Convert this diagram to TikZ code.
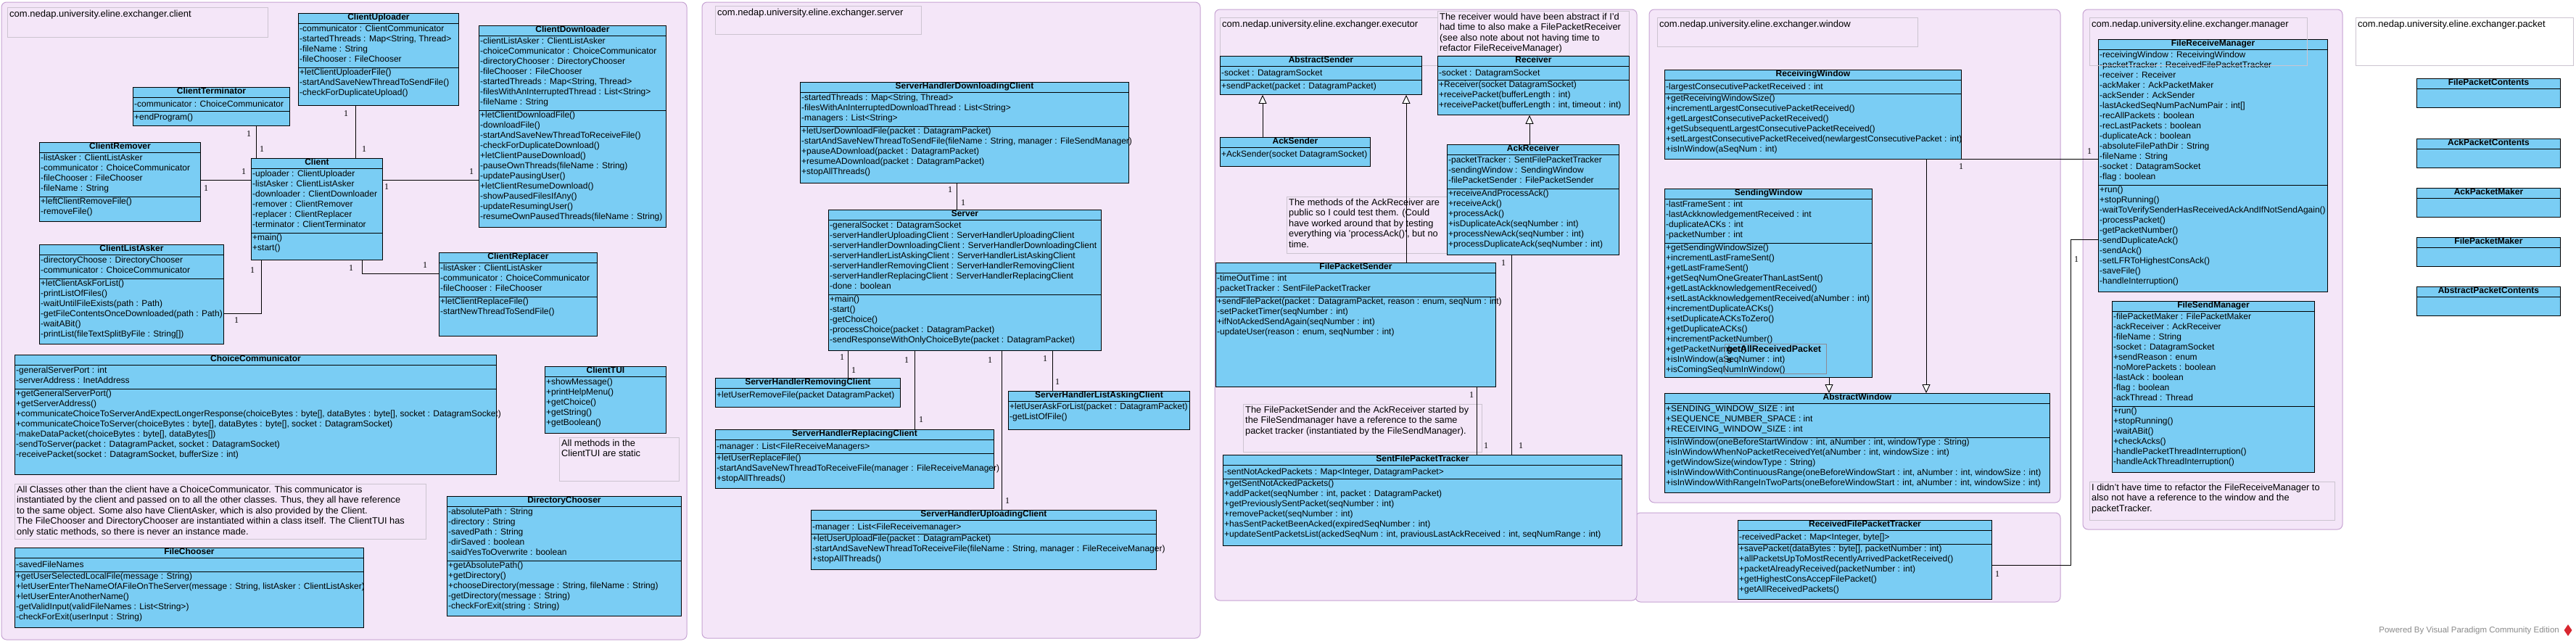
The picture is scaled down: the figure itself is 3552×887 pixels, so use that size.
\documentclass[tikz,border=0pt]{standalone}
\usepackage{fontspec}
\setmainfont{Liberation Sans}
\newfontfamily\numfont{Liberation Serif}
\usetikzlibrary{shapes.geometric, arrows.meta, calc}
\definecolor{Classblue}{HTML}{7ACDF4}
\definecolor{Pkgfill}{HTML}{F4E6F8}
\definecolor{Pkgline}{HTML}{C6A3D2}
\definecolor{Notegray}{HTML}{CCC4D0}
\definecolor{Footgray}{HTML}{8A8A8A}
\definecolor{Logored}{HTML}{D8262F}
\tikzstyle{package} = [
    draw=Pkgline,
    fill=Pkgfill,
    line width=1pt,
    rounded corners=7pt
]
\tikzstyle{notebox} = [
    rectangle,
    draw=Notegray,
    line width=0.7pt,
    anchor=north west,
    inner sep=0pt
]
\tikzstyle{notetext} = [
    anchor=north west,
    align=left,
    inner sep=0pt,
    font=\fontsize{12.8}{14.5}\selectfont,
    execute at begin node=\strut
]
\tikzstyle{pkgtext} = [
    anchor=north west,
    inner sep=0pt,
    font=\fontsize{13}{15}\selectfont,
    execute at begin node=\strut
]
\tikzstyle{classbox} = [
    rectangle,
    draw=black,
    fill=Classblue,
    line width=0.9pt,
    anchor=north west,
    inner sep=0pt
]
\tikzstyle{classtitle} = [
    inner sep=0pt,
    text height=9.8pt,
    text depth=4.2pt,
    font=\bfseries\fontsize{12}{14}\selectfont
]
\tikzstyle{members} = [
    anchor=north west,
    align=left,
    inner sep=0pt,
    font=\fontsize{12}{14}\selectfont,
    execute at begin node=\strut
]
\tikzstyle{divider} = [
    line width=0.9pt
]
\tikzstyle{assoc} = [
    line width=0.9pt
]
\tikzstyle{gen} = [
    line width=0.9pt,
    -{Triangle[length=12pt, width=11pt, fill=white]}
]
\tikzstyle{mult} = [
    inner sep=0pt,
    font=\numfont\fontsize{12}{14}\selectfont
]
% name, x, y, width, height, title, number of attributes, attributes, operations
\newcommand{\umlclass}[9]{%
    \node (#1)   [classbox, minimum width=#4pt, minimum height=#5pt]      at (#2,#3) {};
    \node (#1-t) [classtitle]                                            at ($(#1.north)+(0,7)$) {#6};
    \draw [divider] ($(#1.north west)+(0,14)$) -- ($(#1.north east)+(0,14)$);
    \node (#1-a) [members]                                               at ($(#1.north west)+(2,17)$) {#8};
    \draw [divider] ($(#1.north west)+(0,{19+14*#7})$) -- ($(#1.north east)+(0,{19+14*#7})$);
    \node (#1-m) [members]                                               at ($(#1.north west)+(2,{21+14*#7})$) {#9};
}
% name, x, y, width, height, title, operations
\newcommand{\umlops}[7]{%
    \node (#1)   [classbox, minimum width=#4pt, minimum height=#5pt]      at (#2,#3) {};
    \node (#1-t) [classtitle]                                            at ($(#1.north)+(0,7)$) {#6};
    \draw [divider] ($(#1.north west)+(0,14)$) -- ($(#1.north east)+(0,14)$);
    \node (#1-m) [members]                                               at ($(#1.north west)+(2,17)$) {#7};
}
% name, x, y, width, height, text
\newcommand{\umlnote}[6]{%
    \node (#1)   [notebox, minimum width=#4pt, minimum height=#5pt]       at (#2,#3) {};
    \node (#1-x) [notetext]                                              at ($(#1.north west)+(3,3)$) {#6};
}
\newcommand{\pkglabel}[6]{%
    \node (#1)   [notebox, minimum width=#4pt, minimum height=#5pt]       at (#2,#3) {};
    \node (#1-x) [pkgtext]                                               at ($(#1.north west)+(3,3)$) {#6};
}

\begin{document}
\begin{tikzpicture}[x=1pt, y=-1pt]

    \fill [white] (0,0) rectangle (3552,887);
    \useasboundingbox (0,0) rectangle (3552,887);

    \draw [package] (2,3)       rectangle (947,882);
    \draw [package] (968,3)     rectangle (1655,880);
    \draw [package] (2255,707)  rectangle (2841,830);
    \draw [package] (1675,13)   rectangle (2257,828);
    \draw [package] (2274,13)   rectangle (2841,693);
    \draw [package] (2872,13)   rectangle (3230,730);

    \pkglabel{lblclient}{10}{10}{359}{41}{com.nedap.university.eline.exchanger.client}
    \pkglabel{lblserver}{986}{8}{284}{39}{com.nedap.university.eline.exchanger.server}
    \pkglabel{lblexec}{1682}{24}{300}{66}{com.nedap.university.eline.exchanger.executor}
    \pkglabel{lblwindow}{2285}{24}{359}{40}{com.nedap.university.eline.exchanger.window}
    \pkglabel{lblpacket}{3248}{24}{300}{66}{com.nedap.university.eline.exchanger.packet}

    \umlnote{noteclient}{20}{667}{567}{76}{All Classes other than the client have a ChoiceCommunicator. This communicator is\\instantiated by the client and passed on to all the other classes. Thus, they all have reference\\to the same object. Some also have ClientAsker, which is also provided by the Client.\\The FileChooser and DirectoryChooser are instantiated within a class itself. The ClientTUI has\\only static methods, so there is never an instance made.}
    \umlnote{notetui}{771}{603}{165}{60}{All methods in the\\ClientTUI are static}
    \umlnote{notereceiver}{1982}{15}{264}{61}{The receiver would have been abstract if I'd\\had time to also make a FilePacketReceiver\\(see also note about not having time to\\refactor FileReceiveManager)}
    \umlnote{noteackrecv}{1774}{271}{235}{78}{The methods of the AckReceiver are\\public so I could test them. (Could\\have worked around that by testing\\everything via 'processAck()', but no\\time.}
    \umlnote{notetracker}{1714}{557}{329}{66}{The FilePacketSender and the AckReceiver started by\\the FileSendmanager have a reference to the same\\packet tracker (instantiated by the FileSendManager).}
    \umlnote{notemanager}{2881}{664}{338}{53}{I didn't have time to refactor the FileReceiveManager to\\also not have a reference to the window and the\\packetTracker.}

    \umlclass{cup}{411}{18}{221}{127}{ClientUploader}{4}{-communicator : ClientCommunicator\\-startedThreads : Map<String, Thread>\\-fileName : String\\-fileChooser : FileChooser}{+letClientUploaderFile()\\-startAndSaveNewThreadToSendFile()\\-checkForDuplicateUpload()}
    \umlclass{cterm}{183}{120}{216}{53}{ClientTerminator}{1}{-communicator : ChoiceCommunicator}{+endProgram()}
    \umlclass{crem}{54}{196}{222}{109}{ClientRemover}{4}{-listAsker : ClientListAsker\\-communicator : ChoiceCommunicator\\-fileChooser : FileChooser\\-fileName : String}{+leftClientRemoveFile()\\-removeFile()}
    \umlclass{client}{346}{218}{181}{140}{Client}{6}{-uploader : ClientUploader\\-listAsker : ClientListAsker\\-downloader : ClientDownloader\\-remover : ClientRemover\\-replacer : ClientReplacer\\-terminator : ClientTerminator}{+main()\\+start()}
    \umlclass{clist}{54}{337}{254}{137}{ClientListAsker}{2}{-directoryChoose : DirectoryChooser\\-communicator : ChoiceCommunicator}{+letClientAskForList()\\-printListOfFiles()\\-waitUntilFileExists(path : Path)\\-getFileContentsOnceDownloaded(path : Path)\\-waitABit()\\-printList(fileTextSplitByFile : String[])}
    \umlclass{cdown}{660}{35}{258}{278}{ClientDownloader}{7}{-clientListAsker : ClientListAsker\\-choiceCommunicator : ChoiceCommunicator\\-directoryChooser : DirectoryChooser\\-fileChooser : FileChooser\\-startedThreads : Map<String, Thread>\\-filesWithAnInterruptedThread : List<String>\\-fileName : String}{+letClientDownloadFile()\\-downloadFile()\\-startAndSaveNewThreadToReceiveFile()\\-checkForDuplicateDownload()\\+letClientPauseDownload()\\-pauseOwnThreads(fileName : String)\\-updatePausingUser()\\+letClientResumeDownload()\\-showPausedFilesIfAny()\\-updateResumingUser()\\-resumeOwnPausedThreads(fileName : String)}
    \umlclass{crep}{605}{348}{218}{115}{ClientReplacer}{3}{-listAsker : ClientListAsker\\-communicator : ChoiceCommunicator\\-fileChooser : FileChooser}{+letClientReplaceFile()\\-startNewThreadToSendFile()}
    \umlclass{ccomm}{20}{489}{664}{165}{ChoiceCommunicator}{2}{-generalServerPort : int\\-serverAddress : InetAddress}{+getGeneralServerPort()\\+getServerAddress()\\+communicateChoiceToServerAndExpectLongerResponse(choiceBytes : byte[], dataBytes : byte[], socket : DatagramSocket)\\+communicateChoiceToServer(choiceBytes : byte[], dataBytes : byte[], socket : DatagramSocket)\\-makeDataPacket(choiceBytes : byte[], dataBytes[])\\-sendToServer(packet : DatagramPacket, socket : DatagramSocket)\\-receivePacket(socket : DatagramSocket, bufferSize : int)}
    \umlclass{fchoose}{20}{755}{481}{110}{FileChooser}{1}{-savedFileNames}{+getUserSelectedLocalFile(message : String)\\+letUserEnterTheNameOfAFileOnTheServer(message : String, listAsker : ClientListAsker)\\+letUserEnterAnotherName()\\-getValidInput(validFileNames : List<String>)\\-checkForExit(userInput : String)}
    \umlops{ctui}{751}{505}{167}{92}{ClientTUI}{+showMessage()\\+printHelpMenu()\\+getChoice()\\+getString()\\+getBoolean()}
    \umlclass{dchoose}{616}{684}{323}{165}{DirectoryChooser}{5}{-absolutePath : String\\-directory : String\\-savedPath : String\\-dirSaved : boolean\\-saidYesToOverwrite : boolean}{+getAbsolutePath()\\+getDirectory()\\+chooseDirectory(message : String, fileName : String)\\-getDirectory(message : String)\\-checkForExit(string : String)}

    \umlclass{shdc}{1103}{113}{453}{139}{ServerHandlerDownloadingClient}{3}{-startedThreads : Map<String, Thread>\\-filesWithAnInterruptedDownloadThread : List<String>\\-managers : List<String>}{+letUserDownloadFile(packet : DatagramPacket)\\-startAndSaveNewThreadToSendFile(fileName : String, manager : FileSendManager)\\+pauseADownload(packet : DatagramPacket)\\+resumeADownload(packet : DatagramPacket)\\+stopAllThreads()}
    \umlclass{server}{1142}{289}{376}{194}{Server}{7}{-generalSocket : DatagramSocket\\-serverHandlerUploadingClient : ServerHandlerUploadingClient\\-serverHandlerDownloadingClient : ServerHandlerDownloadingClient\\-serverHandlerListAskingClient : ServerHandlerListAskingClient\\-serverHandlerRemovingClient : ServerHandlerRemovingClient\\-serverHandlerReplacingClient : ServerHandlerReplacingClient\\-done : boolean}{+main()\\-start()\\-getChoice()\\-processChoice(packet : DatagramPacket)\\-sendResponseWithOnlyChoiceByte(packet : DatagramPacket)}
    \umlops{shrem}{986}{521}{255}{40}{ServerHandlerRemovingClient}{+letUserRemoveFile(packet DatagramPacket)}
    \umlclass{shrep}{986}{592}{384}{81}{ServerHandlerReplacingClient}{1}{-manager : List<FileReceiveManagers>}{+letUserReplaceFile()\\-startAndSaveNewThreadToReceiveFile(manager : FileReceiveManager)\\+stopAllThreads()}
    \umlclass{shup}{1118}{703}{476}{82}{ServerHandlerUploadingClient}{1}{-manager : List<FileReceivemanager>}{+letUserUploadFile(packet : DatagramPacket)\\-startAndSaveNewThreadToReceiveFile(fileName : String, manager : FileReceiveManager)\\+stopAllThreads()}
    \umlops{shlist}{1390}{539}{250}{53}{ServerHandlerListAskingClient}{+letUserAskForList(packet : DatagramPacket)\\-getListOfFile()}

    \umlclass{asend}{1682}{77}{278}{53}{AbstractSender}{1}{-socket : DatagramSocket}{+sendPacket(packet : DatagramPacket)}
    \umlclass{recv}{1982}{77}{264}{81}{Receiver}{1}{-socket : DatagramSocket}{+Receiver(socket DatagramSocket)\\+receivePacket(bufferLength : int)\\+receivePacket(bufferLength : int, timeout : int)}
    \umlops{acksend}{1682}{189}{207}{40}{AckSender}{+AckSender(socket DatagramSocket)}
    \umlclass{ackrecv}{1995}{199}{237}{152}{AckReceiver}{3}{-packetTracker : SentFilePacketTracker\\-sendingWindow : SendingWindow\\-filePacketSender : FilePacketSender}{+receiveAndProcessAck()\\+receiveAck()\\+processAck()\\+isDuplicateAck(seqNumber : int)\\+processNewAck(seqNumber : int)\\+processDuplicateAck(seqNumber : int)}
    \umlclass{fps}{1676}{362}{386}{171}{FilePacketSender}{2}{-timeOutTime : int\\-packetTracker : SentFilePacketTracker}{+sendFilePacket(packet : DatagramPacket, reason : enum, seqNum : int)\\-setPacketTimer(seqNumber : int)\\+ifNotAckedSendAgain(seqNumber : int)\\-updateUser(reason : enum, seqNumber : int)}
    \umlclass{sfpt}{1686}{627}{550}{125}{SentFilePacketTracker}{1}{-sentNotAckedPackets : Map<Integer, DatagramPacket>}{+getSentNotAckedPackets()\\+addPacket(seqNumber : int, packet : DatagramPacket)\\+getPreviouslySentPacket(seqNumber : int)\\+removePacket(seqNumber : int)\\+hasSentPacketBeenAcked(expiredSeqNumber : int)\\+updateSentPacketsList(ackedSeqNum : int, praviousLastAckReceived : int, seqNumRange : int)}

    \umlclass{rwin}{2295}{96}{409}{123}{ReceivingWindow}{1}{-largestConsecutivePacketReceived : int}{+getReceivingWindowSize()\\+incrementLargestConsecutivePacketReceived()\\+getLargestConsecutivePacketReceived()\\+getSubsequentLargestConsecutivePacketReceived()\\+setLargestConsecutivePacketReceived(newlargestConsecutivePacket : int)\\+isInWindow(aSeqNum : int)}
    \umlclass{swin}{2295}{260}{286}{260}{SendingWindow}{4}{-lastFrameSent : int\\-lastAckknowledgementReceived : int\\-duplicateACKs : int\\-packetNumber : int}{+getSendingWindowSize()\\+incrementLastFrameSent()\\+getLastFrameSent()\\+getSeqNumOneGreaterThanLastSent()\\+getLastAckknowledgementReceived()\\+setLastAckknowledgementReceived(aNumber : int)\\+incrementDuplicateACKs()\\+setDuplicateACKsToZero()\\+getDuplicateACKs()\\+incrementPacketNumber()\\+getPacketNumber()\\+isInWindow(aSeqNumer : int)\\+isComingSeqNumInWindow()}
    \umlclass{awin}{2295}{542}{531}{137}{AbstractWindow}{3}{+SENDING\_WINDOW\_SIZE : int\\+SEQUENCE\_NUMBER\_SPACE : int\\+RECEIVING\_WINDOW\_SIZE : int}{+isInWindow(oneBeforeStartWindow : int, aNumber : int, windowType : String)\\-isInWindowWhenNoPacketReceivedYet(aNumber : int, windowSize : int)\\+getWindowSize(windowType : String)\\+isInWindowWithContinuousRange(oneBeforeWindowStart : int, aNumber : int, windowSize : int)\\+isInWindowWithRangeInTwoParts(oneBeforeWindowStart : int, aNumber : int, windowSize : int)}
    \umlclass{rfpt}{2396}{717}{350}{109}{ReceivedFilePacketTracker}{1}{-receivedPacket : Map<Integer, byte[]>}{+savePacket(dataBytes : byte[], packetNumber : int)\\+allPacketsUpToMostRecentlyArrivedPacketReceived()\\+packetAlreadyReceived(packetNumber : int)\\+getHighestConsAccepFilePacket()\\+getAllReceivedPackets()}

    \node (stray)   [notebox, draw=Notegray!70!black, minimum width=140pt, minimum height=41pt] at (2378,474) {};
    \node (stray-x) [anchor=north west, align=left, inner sep=0pt, font=\bfseries\fontsize{12.5}{15}\selectfont] at ($(stray.north west)+(3,2)$) {getAllReceivedPacket\\s};

    \umlclass{frm}{2893}{54}{316}{348}{FileReceiveManager}{13}{-receivingWindow : ReceivingWindow\\-packetTracker : ReceivedFilePacketTracker\\-receiver : Receiver\\-ackMaker : AckPacketMaker\\-ackSender : AckSender\\-lastAckedSeqNumPacNumPair : int[]\\-recAllPackets : boolean\\-recLastPackets : boolean\\-duplicateAck : boolean\\-absoluteFilePathDir : String\\-fileName : String\\-socket : DatagramSocket\\-flag : boolean}{+run()\\+stopRunning()\\-waitToVerifySenderHasReceivedAckAndIfNotSendAgain()\\-processPacket()\\-getPacketNumber()\\-sendDuplicateAck()\\-sendAck()\\-setLFRToHighestConsAck()\\-saveFile()\\-handleInterruption()}
    \umlclass{fsm}{2912}{415}{279}{236}{FileSendManager}{9}{-filePacketMaker : FilePacketMaker\\-ackReceiver : AckReceiver\\-fileName : String\\-socket : DatagramSocket\\+sendReason : enum\\-noMorePackets : boolean\\-lastAck : boolean\\-flag : boolean\\-ackThread : Thread}{+run()\\+stopRunning()\\-waitABit()\\+checkAcks()\\-handlePacketThreadInterruption()\\-handleAckThreadInterruption()}
    \pkglabel{lblmanager}{2881}{24}{300}{66}{com.nedap.university.eline.exchanger.manager}

    \umlops{fpc}{3332}{108}{198}{40}{FilePacketContents}{}
    \umlops{apc}{3332}{191}{198}{40}{AckPacketContents}{}
    \umlops{apm}{3332}{259}{198}{40}{AckPacketMaker}{}
    \umlops{fpm}{3332}{327}{198}{40}{FilePacketMaker}{}
    \umlops{abpc}{3332}{395}{198}{40}{AbstractPacketContents}{}

    \draw [assoc] ([xshift=7pt]client.north west)     --  ([xshift=7pt]client.north west |- cterm.south);
    \draw [assoc] ([xshift=144pt]client.north west)   --  ([xshift=144pt]client.north west |- cup.south);
    \draw [assoc] ([yshift=-30pt]client.north west)   --  ([yshift=-30pt]client.north west -| crem.east);
    \draw [assoc] ([yshift=-30pt]client.north east)   --  ([yshift=-30pt]client.north east -| cdown.west);
    \draw [assoc] ([xshift=153pt]client.south west)   |-  ([yshift=-29pt]crep.north west);
    \draw [assoc] ([xshift=14pt]client.south west)    |-  ([yshift=-95pt]clist.north east);

    \draw [assoc] ([xshift=177pt]server.north west)   --  ([xshift=177pt]server.north west |- shdc.south);
    \draw [assoc] ([xshift=27pt]server.south west)    --  ([xshift=27pt]server.south west |- shrem.north);
    \draw [assoc] ([xshift=119pt]server.south west)   --  ([xshift=119pt]server.south west |- shrep.north);
    \draw [assoc] ([xshift=239pt]server.south west)   --  ([xshift=239pt]server.south west |- shup.north);
    \draw [assoc] ([xshift=309pt]server.south west)   --  ([xshift=309pt]server.south west |- shlist.north);

    \draw [gen]   ([xshift=59pt]acksend.north west)   --  ([xshift=59pt]acksend.north west |- asend.south);
    \draw [gen]   ([xshift=263pt]fps.north west)      --  ([xshift=263pt]fps.north west |- asend.south);
    \draw [gen]   ([xshift=114pt]ackrecv.north west)  --  ([xshift=114pt]ackrecv.north west |- recv.south);
    \draw [assoc] ([xshift=89pt]ackrecv.south west)   --  ([xshift=89pt]ackrecv.south west |- sfpt.north);
    \draw [assoc] ([xshift=360pt]fps.south west)      --  ([xshift=360pt]fps.south west |- sfpt.north);

    \draw [gen]   ([xshift=227pt]swin.south west)     --  ([xshift=227pt]swin.south west |- awin.north);
    \draw [gen]   ([xshift=361pt]rwin.south west)     --  ([xshift=361pt]rwin.south west |- awin.north);
    \draw [assoc] ([xshift=361pt]rwin.south west)     --  (rwin.south -| frm.west);
    \draw [assoc] ([yshift=-62pt]rfpt.north east)     -|  ([xshift=-38pt, yshift=-276pt]frm.north west) -- ([yshift=-276pt]frm.north west);

    \foreach \p [count=\i] in {(343,185), (361,206), (477,157), (502,206), (336,237), (284,260),
                               (533,258), (650,237), (484,370), (586,366), (348,373), (326,442),
                               (1310,262), (1328,280), (1161,493), (1177,511), (1250,497), (1270,579),
                               (1365,497), (1389,691), (1441,495), (1458,527),
                               (2073,363), (2097,615), (2029,545), (2049,615),
                               (2704,230), (2881,209), (2754,792), (2863,358)}
        \node (mult\i) [mult] at \p {1};

    \node (vpfoot) [anchor=east, inner sep=0pt, text=Footgray, font=\fontsize{11.5}{13}\selectfont] at (3529,870) {Powered By Visual Paradigm Community Edition};
    \node (vplogo) [diamond, fill=Logored, inner sep=0pt, minimum width=11pt, minimum height=16pt] at (3541,869) {};

\end{tikzpicture}
\end{document}
